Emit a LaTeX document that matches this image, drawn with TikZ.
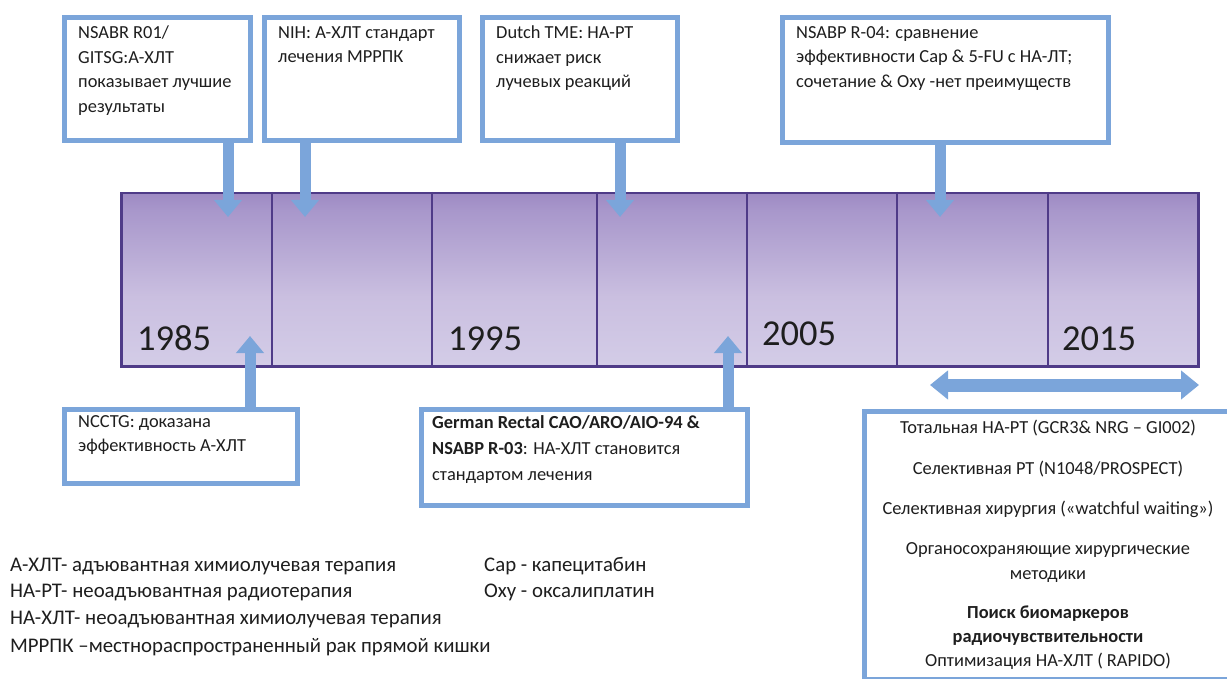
\documentclass[tikz,border=0pt]{standalone}
\usepackage{fontspec}
\setmainfont{Carlito}
\usetikzlibrary{arrows.meta}
\definecolor{boxblue}{HTML}{7BA5DA}
\definecolor{barline}{HTML}{4F3B88}
\definecolor{txt}{HTML}{1E1E1E}
\definecolor{sA}{HTML}{DFDDF0}
\definecolor{sB}{HTML}{CABFE0}
\definecolor{sC}{HTML}{A897CB}
\definecolor{sD}{HTML}{7C5FA9}
\definecolor{sE}{HTML}{7254A0}
\pgfdeclareverticalshading{barshade}{100bp}{color(0bp)=(sA); color(45bp)=(sB); color(70bp)=(sC); color(92bp)=(sD); color(100bp)=(sE)}
\tikzset{
  infobox/.style={draw=boxblue, line width=5pt, fill=white, inner sep=0pt, anchor=north west},
  boxtext/.style={anchor=north west, inner sep=0pt, align=left, font=\fontsize{18.4}{24.5}\selectfont, text=txt},
  rtext/.style={anchor=base, inner sep=0pt, font=\fontsize{18.4}{24}\selectfont, text=txt},
  legend/.style={anchor=base west, inner sep=0pt, font=\fontsize{20.8}{24}\selectfont, text=txt},
  yeartext/.style={anchor=base west, inner sep=0pt, font=\fontsize{36.5}{40}\selectfont, text=txt},
  stem/.style={draw=boxblue, line width=11pt, -{Triangle[width=27pt,length=17pt]}},
  divider/.style={draw=barline, line width=1.2pt},
}
\begin{document}
\begin{tikzpicture}[x=1pt,y=-1pt]
\useasboundingbox (0,0) rectangle (1227,679);
\fill[white] (0,0) rectangle (1227,679);

% timeline bar
\node[draw=barline, line width=2.5pt, shading=barshade, minimum width=1077pt, minimum height=173pt, anchor=north west, inner sep=0pt] (bar) at (120,192) {};
\foreach \xx/\nm in {272/v1,432/v2,597/v3,747/v4,897/v5,1048/v6}{
  \coordinate (\nm) at (\xx,280);
  \draw[divider] (bar.north -| \nm) -- (bar.south -| \nm);
}
\node[yeartext] (y1985) at (137,350) {1985};
\node[yeartext] (y1995) at (448,350) {1995};
\node[yeartext] (y2005) at (762,345) {2005};
\node[yeartext] (y2015) at (1062,350) {2015};

% top boxes
\node[infobox, minimum width=186pt, minimum height=123pt] (b1) at (62,15) {};
\node[boxtext] (t1) at (78,26) {NSABR R01/\\GITSG:А-ХЛТ\\показывает лучшие\\результаты};
\node[infobox, minimum width=195pt, minimum height=123pt] (b2) at (262,15) {};
\node[boxtext] (t2) at (278,26) {NIH: А-ХЛТ стандарт\\лечения МРРПК};
\node[infobox, minimum width=195pt, minimum height=123pt] (b3) at (480,15) {};
\node[boxtext] (t3) at (496,26) {Dutch TME: НА-РТ\\снижает риск\\лучевых реакций};
\node[infobox, minimum width=326pt, minimum height=125pt] (b4) at (780,15) {};
\node[boxtext] (t4) at (796,26) {NSABP R-04: сравнение\\эффективности Cap \& 5-FU с НА-ЛТ;\\сочетание \& Oxy -нет преимуществ};

\coordinate (a1) at (228,217);
\coordinate (a2) at (305,217);
\coordinate (a3) at (620,217);
\coordinate (a4) at (940,217);
\draw[stem] (b1.south -| a1) -- (a1);
\draw[stem] (b2.south -| a2) -- (a2);
\draw[stem] (b3.south -| a3) -- (a3);
\draw[stem] (b4.south -| a4) -- (a4);

% bottom boxes
\node[infobox, minimum width=233pt, minimum height=74pt] (n1) at (62,407) {};
\node[boxtext] (nt1) at (78,415) {NCCTG: доказана\\эффективность А-ХЛТ};
\node[infobox, minimum width=326pt, minimum height=96pt] (n2) at (419,407) {};
\node[boxtext, font=\fontsize{18.4}{26}\selectfont] (nt2) at (432,415) {\textbf{German Rectal CAO/ARO/AIO-94 \&}\\\textbf{NSABP R-03}: НА-ХЛТ становится\\стандартом лечения};
\coordinate (u1) at (250,336);
\coordinate (u2) at (728,336);
\draw[stem] (n1.north -| u1) -- (u1);
\draw[stem] (n2.north -| u2) -- (u2);

% double arrow and right box
\coordinate (d1) at (930,385);
\coordinate (d2) at (1199,385);
\draw[draw=boxblue, line width=13pt, {Triangle[width=28pt,length=18pt]}-{Triangle[width=28pt,length=18pt]}] (d1) -- (d2);
\node[infobox, minimum width=368pt, minimum height=268pt] (rb) at (862,409) {};
\node[rtext] (r1) at (1048,433) {Тотальная НА-РТ (GCR3\& NRG – GI002)};
\node[rtext] (r2) at (1048,474) {Селективная РТ (N1048/PROSPECT)};
\node[rtext] (r3) at (1048,514) {Селективная хирургия («watchful waiting»)};
\node[rtext] (r4) at (1048,554) {Органосохраняющие хирургические};
\node[rtext] (r5) at (1048,579) {методики};
\node[rtext] (r6) at (1048,618) {\textbf{Поиск биомаркеров}};
\node[rtext] (r7) at (1048,642) {\textbf{радиочувствительности}};
\node[rtext] (r8) at (1048,666) {Оптимизация НА-ХЛТ ( RAPIDO)};

% legend
\node[legend] (l1) at (10,571) {А-ХЛТ- адъювантная химиолучевая терапия};
\node[legend] (l2) at (10,597) {НА-РТ- неоадъювантная радиотерапия};
\node[legend] (l3) at (10,624) {НА-ХЛТ- неоадъювантная химиолучевая терапия};
\node[legend] (l4) at (10,652) {МРРПК –местнораспространенный рак прямой кишки};
\node[legend] (l5) at (484,571) {Cap - капецитабин};
\node[legend] (l6) at (484,597) {Oxy - оксалиплатин};
\end{tikzpicture}
\end{document}
